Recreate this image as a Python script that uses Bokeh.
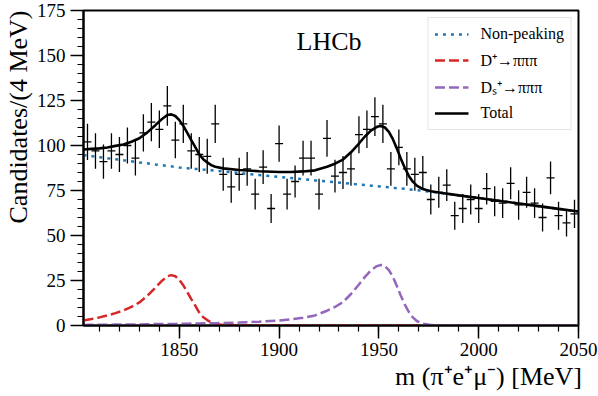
import numpy as np
from bokeh.plotting import figure
from bokeh.models import Range1d, FixedTicker, Label, Legend, LegendItem, Title
from bokeh.embed import file_html
from bokeh.resources import INLINE

# ---- data: bin centres (4 MeV bins) and candidate counts ----
mass = [1804 + 4 * i for i in range(62)]
counts = [102, 97, 91, 97, 95, 100, 93, 107, 113, 109,
          122, 103, 112, 97, 95, 94, 112, 84, 77, 84,
          87, 73, 88, 65, 101, 73, 80, 93, 93, 73,
          104, 83, 85, 87, 106, 109, 116, 112, 87, 99,
          87, 84, 85, 70, 74, 78, 61, 65, 70, 65,
          76, 69, 68, 79, 67, 74, 68, 60, 82, 61,
          57, 62]

# ---- fit curves ----
m_fit = [1802, 1806, 1810, 1814, 1818, 1822, 1826, 1830, 1834, 1838,
         1841, 1844, 1846, 1848, 1850, 1852, 1854, 1856, 1858, 1860,
         1862, 1864, 1866, 1868, 1872, 1880, 1890, 1900, 1906, 1912,
         1918, 1924, 1928, 1932, 1936, 1940, 1943, 1946, 1949, 1951,
         1953, 1955, 1957, 1959, 1961, 1963, 1965, 1967, 1969, 1972,
         1976, 1980, 1990, 2000, 2010, 2020, 2030, 2040, 2050]
non_peaking = [94.7, 94.1, 93.5, 92.9, 92.4, 91.8, 91.2, 90.6, 90.1, 89.5,
               89.1, 88.7, 88.4, 88.1, 87.8, 87.6, 87.4, 87.2, 87.0, 86.8,
               86.6, 86.4, 86.2, 86.0, 85.6, 84.7, 83.6, 82.5, 81.9, 81.3,
               80.6, 80.0, 79.6, 79.2, 78.7, 78.3, 78.0, 77.7, 77.4, 77.2,
               77.0, 76.8, 76.5, 76.3, 76.1, 75.9, 75.6, 75.4, 75.2, 74.8,
               74.3, 73.8, 72.3, 70.8, 69.3, 67.8, 66.3, 64.8, 63.3]
d_plus = [2.8, 3.6, 4.5, 5.6, 6.9, 8.3, 10.3, 12.8, 16.5, 21.0,
          24.5, 27.3, 28.0, 27.4, 25.3, 22.3, 18.6, 14.7, 11.0, 7.2,
          4.6, 3.0, 1.7, 0.9, 0.3, 0.1, 0, 0, 0, 0,
          0, 0, 0, 0, 0, 0, 0, 0, 0, 0,
          0, 0, 0, 0, 0, 0, 0, 0, 0, 0,
          0, 0, 0, 0, 0, 0, 0, 0, 0]
ds_plus = [0.3, 0.35, 0.4, 0.4, 0.5, 0.5, 0.6, 0.6, 0.7, 0.8,
           0.8, 0.9, 0.9, 0.9, 1.0, 1.0, 1.0, 1.1, 1.1, 1.1,
           1.2, 1.2, 1.2, 1.3, 1.4, 1.6, 2.1, 2.8, 3.4, 4.3,
           5.6, 8.2, 10.3, 13.0, 17.5, 22.8, 27.0, 30.6, 33.0, 33.6,
           33.0, 30.8, 27.0, 22.0, 16.5, 11.6, 7.5, 4.5, 2.5, 1.0,
           0.3, 0.1, 0, 0, 0, 0, 0, 0, 0]
total = [97.8, 98.1, 98.4, 98.9, 99.8, 100.6, 102.1, 104.0, 107.3, 111.3,
         114.4, 116.9, 117.3, 116.4, 114.1, 110.9, 107.0, 103.0, 99.1, 95.1,
         92.4, 90.6, 89.1, 88.2, 87.3, 86.4, 85.7, 85.3, 85.3, 85.6,
         86.2, 88.2, 89.9, 92.2, 96.2, 101.1, 105.0, 108.3, 110.4, 110.8,
         110.0, 107.6, 103.5, 98.3, 92.6, 87.5, 83.1, 79.9, 77.7, 75.8,
         74.6, 73.9, 72.3, 70.8, 69.3, 67.8, 66.3, 64.8, 63.3]

x_ticks = [1850, 1900, 1950, 2000, 2050]
x_minor = list(range(1810, 2051, 10))
y_ticks = [0, 25, 50, 75, 100, 125, 150, 175]
y_minor = list(range(0, 176, 5))

FONT = "Liberation Serif"

p = figure(width=598, height=396,
           x_range=Range1d(1802, 2050), y_range=Range1d(0, 175),
           output_backend="svg", toolbar_location=None,
           min_border_left=82, min_border_right=20,
           min_border_top=10, min_border_bottom=71)
p.title.visible = False
p.grid.visible = False
p.outline_line_color = "black"
p.outline_line_width = 2
p.background_fill_color = "white"
p.border_fill_color = "white"

p.xaxis.ticker = FixedTicker(ticks=x_ticks, minor_ticks=x_minor)
p.yaxis.ticker = FixedTicker(ticks=y_ticks, minor_ticks=y_minor)
for ax in (p.xaxis[0], p.yaxis[0]):
    ax.axis_line_width = 2
    ax.axis_line_color = "black"
    ax.major_tick_out = 13
    ax.major_tick_in = 0
    ax.minor_tick_out = 6
    ax.minor_tick_in = 0
    ax.major_tick_line_width = 1.5
    ax.minor_tick_line_width = 1.2
    ax.major_tick_line_color = "black"
    ax.minor_tick_line_color = "black"
    ax.major_label_text_font = FONT
    ax.major_label_text_font_size = "19px"
    ax.major_label_text_color = "black"
p.xaxis.major_label_standoff = 4
p.yaxis.major_label_standoff = 5

# ---- fit components ----
r_bkg = p.line(m_fit, non_peaking, line_color="#1f77b4", line_width=2.5, line_dash="3 5")
r_dp = p.line(m_fit, d_plus, line_color="#d62728", line_width=2.5, line_dash="10 4")
r_ds = p.line(m_fit, ds_plus, line_color="#9467bd", line_width=2.5, line_dash="10 4")

# ---- data points with Poisson errors ----
m_arr = np.array(mass, dtype=float)
n_arr = np.array(counts, dtype=float)
err = np.sqrt(n_arr)
p.segment(x0=m_arr, y0=n_arr - err, x1=m_arr, y1=n_arr + err, line_color="black", line_width=1.3)
p.segment(x0=m_arr - 2, y0=n_arr, x1=m_arr + 2, y1=n_arr, line_color="black", line_width=1.3)

r_tot = p.line(m_fit, total, line_color="black", line_width=2.6)

legend = Legend(items=[
    LegendItem(label="Non-peaking", renderers=[r_bkg]),
    LegendItem(label="D⁺→πππ", renderers=[r_dp]),
    LegendItem(label="Dₛ⁺→πππ", renderers=[r_ds]),
    LegendItem(label="Total", renderers=[r_tot]),
], location="top_right")
legend.label_text_font = FONT
legend.label_text_font_size = "16px"
legend.label_text_color = "black"
legend.glyph_width = 34
legend.glyph_height = 20
legend.label_height = 20
legend.spacing = 5
legend.padding = 6
legend.margin = 7
legend.label_standoff = 12
legend.border_line_color = "#cccccc"
legend.border_line_width = 1
legend.background_fill_alpha = 0.85
p.add_layout(legend)

p.add_layout(Label(x=1925, y=158, text="LHCb", text_font=FONT, text_font_size="26px",
                   text_color="black", text_align="center", text_baseline="middle"))

# axis titles
ytitle = Title(text="Candidates/(4 MeV)", align="right", standoff=2,
               text_font=FONT, text_font_size="26px", text_font_style="normal",
               text_color="black")
p.add_layout(ytitle, "left")
xtitle = Title(text="m (π⁺e⁺μ⁻)  [MeV]", align="right", standoff=2, offset=-10,
               text_font=FONT, text_font_size="26px", text_font_style="normal",
               text_color="black")
p.add_layout(xtitle, "below")

open("out.html", "w").write(file_html(p, INLINE))
